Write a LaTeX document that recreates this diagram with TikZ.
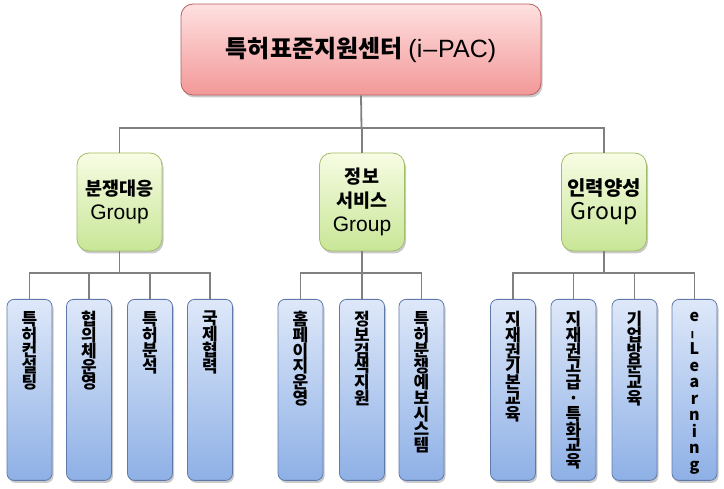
\documentclass[tikz,border=0pt]{standalone}
\usepackage{fontspec}
\newfontfamily\kr{Noto Sans CJK KR}
\newfontfamily\lat{Liberation Sans}
\usetikzlibrary{shadows}
\definecolor{linegray}{RGB}{128,128,128}
\definecolor{topborder}{RGB}{185,95,95}
\definecolor{toptop}{RGB}{254,224,224}
\definecolor{topbot}{RGB}{243,152,152}
\definecolor{grpborder}{RGB}{160,190,105}
\definecolor{grptop}{RGB}{247,252,228}
\definecolor{grpbot}{RGB}{200,230,150}
\definecolor{leafborder}{RGB}{95,122,170}
\definecolor{leaftop}{RGB}{222,232,249}
\definecolor{leafbot}{RGB}{142,176,230}
\begin{document}
\begin{tikzpicture}[x=1pt,y=-1pt,
  conn/.style={draw=linegray, line width=1.8pt},
  shad/.style={drop shadow={opacity=0.3, shadow xshift=1.5pt, shadow yshift=-2.5pt, fill=black!70}},
  topbox/.style={draw=topborder, line width=0.8pt, rounded corners=12pt, top color=toptop, bottom color=topbot,
     minimum width=360pt, minimum height=91pt, inner sep=0pt, shad},
  grpbox/.style={draw=grpborder, line width=0.8pt, rounded corners=12pt, top color=grptop, bottom color=grpbot,
     minimum width=85pt, minimum height=98pt, inner sep=0pt, align=center, shad,
     font={\fontsize{18.5}{24}\selectfont}},
  leafbox/.style={draw=leafborder, line width=0.8pt, rounded corners=7pt, top color=leaftop, bottom color=leafbot,
     minimum width=45pt, minimum height=181pt, inner sep=0pt, anchor=north, shad},
  leaftext/.style={anchor=north, inner sep=0pt, align=center,
     font={\kr\bfseries\fontsize{17}{15.8}\selectfont\lineskiplimit=-30pt\lineskip=0pt}},
  leaflat/.style={anchor=north, inner sep=0pt, align=center,
     font={\kr\bfseries\fontsize{16}{16.5}\selectfont\lineskiplimit=-30pt\lineskip=0pt}}
]
\useasboundingbox (0,0) rectangle (724,489);

% top
\node[topbox] (top) at (361,49.5)
  {{\kr\bfseries\fontsize{24}{28}\selectfont 특허표준지원센터}\hspace{6pt}{\lat\fontsize{25}{28}\selectfont (i\kern1pt–\kern1ptPAC)}};

% groups
\node[grpbox] (g1) at (119.5,202) {{\kr\bfseries 분쟁대응}\\{\lat\fontsize{21}{24}\selectfont Group}};
\node[grpbox] (g2) at (362,202) {{\kr\bfseries 정보}\\{\kr\bfseries 서비스}\\{\lat\fontsize{21}{24}\selectfont Group}};
\node[grpbox] (g3) at (604,202) {{\kr\bfseries\fontsize{20}{24}\selectfont 인력양성}\\{\kr\fontsize{23}{25}\selectfont Group}};

% leaves
\node[leafbox] (l1) at (29.5,299) {};
\node[leafbox] (l2) at (89,299) {};
\node[leafbox] (l3) at (150,299) {};
\node[leafbox] (l4) at (210,299) {};
\node[leafbox] (l5) at (300.5,299) {};
\node[leafbox] (l6) at (362,299) {};
\node[leafbox] (l7) at (421.5,299) {};
\node[leafbox] (l8) at (513,299) {};
\node[leafbox] (l9) at (573.5,299) {};
\node[leafbox] (l10) at (634.5,299) {};
\node[leafbox] (l11) at (694.5,299) {};

\node[leaftext] (t1) at ([yshift=-12pt]l1.north) {특\\허\\컨\\설\\팅};
\node[leaftext] (t2) at ([yshift=-12pt]l2.north) {협\\의\\체\\운\\영};
\node[leaftext] (t3) at ([yshift=-12pt]l3.north) {특\\허\\분\\석};
\node[leaftext] (t4) at ([yshift=-12pt]l4.north) {국\\제\\협\\력};
\node[leaftext] (t5) at ([yshift=-12pt]l5.north) {홈\\페\\이\\지\\운\\영};
\node[leaftext] (t6) at ([yshift=-12pt]l6.north) {정\\보\\검\\색\\지\\원};
\node[leaftext] (t7) at ([yshift=-12pt]l7.north) {특\\허\\분\\쟁\\예\\보\\시\\스\\템};
\node[leaftext] (t8) at ([yshift=-12pt]l8.north) {지\\재\\권\\기\\본\\교\\육};
\node[leaftext] (t9) at ([yshift=-12pt]l9.north) {지\\재\\권\\고\\급\\·\\특\\화\\교\\육};
\node[leaftext] (t10) at ([yshift=-12pt]l10.north) {기\\업\\방\\문\\교\\육};
\node[leaflat] (t11) at ([yshift=-13pt]l11.north) {e\\\rotatebox[origin=c]{90}{–}\\L\\e\\a\\r\\n\\i\\n\\g};

% connectors
\coordinate (tb) at (361.5,128);
\draw[conn] (top.south) -- (tb);
\draw[conn] (g1.north) |- (tb);
\draw[conn] (g2.north) -- (g2.north |- tb);
\draw[conn] (g3.north) |- (tb);

\coordinate (b1) at (119.5,273);
\coordinate (b2) at (362,273);
\coordinate (b3) at (604,273);
\draw[conn] (g1.south) -- (b1);
\draw[conn] (g2.south) -- (b2);
\draw[conn] (g3.south) -- (b3);
\foreach \l in {l1,l2,l3,l4} \draw[conn] (\l.north) |- (b1);
\foreach \l in {l5,l6,l7} \draw[conn] (\l.north) |- (b2);
\foreach \l in {l8,l9,l10,l11} \draw[conn] (\l.north) |- (b3);
\end{tikzpicture}
\end{document}
